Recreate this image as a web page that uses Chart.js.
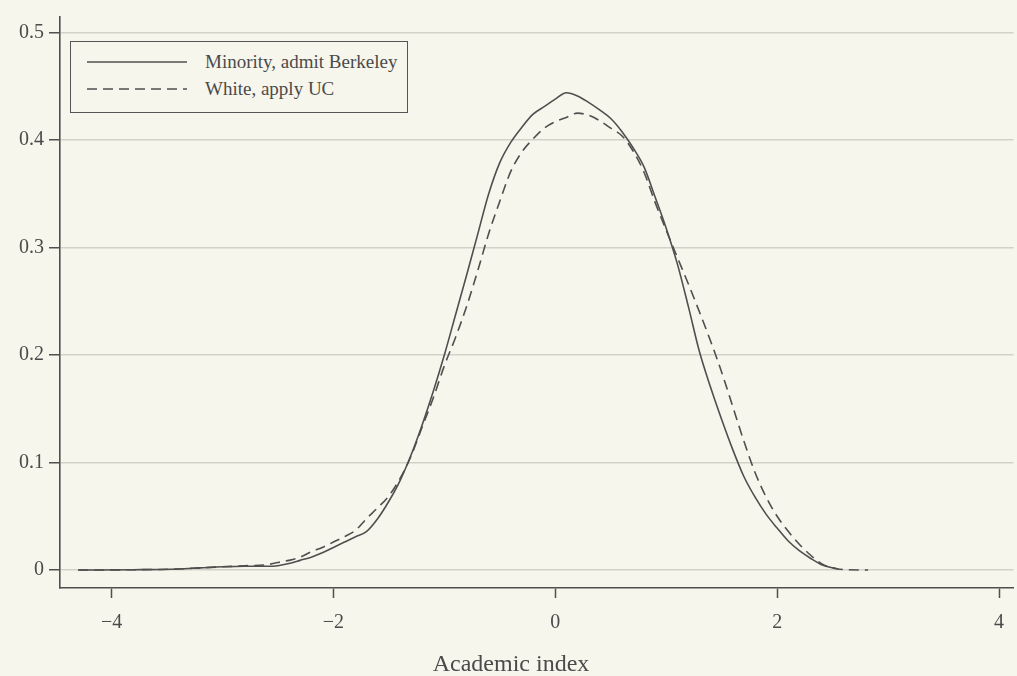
<!DOCTYPE html>
<html>
<head>
<meta charset="utf-8">
<script src="https://cdn.jsdelivr.net/npm/chart.js@4/dist/chart.umd.min.js"></script>
<style>
  html, body { margin:0; padding:0; background:#f7f6ec; }
  #wrap { position:relative; width:1017px; height:676px; overflow:hidden; }
  #legend { position:absolute; left:70px; top:41px; width:338px; height:72px;
            border:1.5px solid #555; background:#f7f6ec; box-sizing:border-box;
            font-family:"Liberation Serif", serif; font-size:19px; color:#4a4a4a; }
  .row { position:absolute; left:16px; height:22px; display:flex; align-items:center; }
  .row svg { margin-right:18px; }
  #xtitle { position:absolute; top:650px; left:0; width:1022px; text-align:center;
            font-family:"Liberation Serif", serif; font-size:24px; color:#4a4a4a; }
</style>
</head>
<body>
<div id="wrap">
  <canvas id="c" width="1017" height="676"></canvas>
  <div id="legend"></div>
  <div id="xtitle">Academic index</div>
</div>
<script>
const xTicks = [-4, -2, 0, 2, 4];
const yTicks = [0, 0.1, 0.2, 0.3, 0.4, 0.5];
const seriesNames = ["Minority, admit Berkeley", "White, apply UC"];

const minorityX = [-4.3,-3.8,-3.4,-3.2,-3.0,-2.8,-2.6,-2.5,-2.4,-2.3,
  -2.2,-2.1,-2.0,-1.9,-1.8,-1.7,-1.6,-1.5,-1.4,-1.3,
  -1.2,-1.1,-1.0,-0.9,-0.8,-0.7,-0.6,-0.5,-0.4,-0.3,
  -0.2,-0.1,0.0,0.1,0.2,0.3,0.4,0.5,0.6,0.7,
  0.8,0.9,1.0,1.1,1.2,1.3,1.4,1.5,1.6,1.7,
  1.8,1.9,2.0,2.1,2.2,2.3,2.4,2.5,2.55];
const minorityY = [0,0.0003,0.001,0.002,0.003,0.0035,0.0035,0.004,0.006,0.009,
  0.012,0.016,0.021,0.026,0.031,0.036,0.048,0.064,0.083,0.107,
  0.135,0.166,0.200,0.237,0.274,0.312,0.350,0.379,0.398,0.412,
  0.424,0.431,0.438,0.444,0.441,0.435,0.428,0.420,0.408,0.393,
  0.375,0.347,0.318,0.285,0.245,0.203,0.170,0.140,0.112,0.087,
  0.068,0.052,0.039,0.027,0.018,0.011,0.005,0.002,0.0012];

const whiteX = [-4.3,-3.8,-3.4,-3.2,-3.0,-2.8,-2.6,-2.5,-2.4,-2.3,
  -2.2,-2.1,-2.0,-1.9,-1.8,-1.7,-1.6,-1.5,-1.4,-1.3,
  -1.2,-1.1,-1.0,-0.9,-0.8,-0.7,-0.6,-0.5,-0.4,-0.3,
  -0.2,-0.1,0.0,0.1,0.2,0.3,0.4,0.5,0.6,0.7,
  0.8,0.9,1.0,1.1,1.2,1.3,1.4,1.5,1.6,1.7,
  1.8,1.9,2.0,2.1,2.2,2.3,2.4,2.5,2.6,2.82];
const whiteY = [0,0.0003,0.001,0.002,0.003,0.004,0.005,0.007,0.009,0.012,
  0.017,0.021,0.026,0.031,0.037,0.048,0.058,0.069,0.085,0.106,
  0.133,0.160,0.190,0.216,0.245,0.278,0.313,0.343,0.371,0.389,
  0.401,0.411,0.417,0.421,0.425,0.423,0.418,0.411,0.404,0.390,
  0.370,0.342,0.316,0.291,0.266,0.240,0.213,0.184,0.152,0.120,
  0.091,0.068,0.050,0.036,0.024,0.014,0.006,0.002,0.0005,0];

const ink = '#4f4f4f';
const textCol = '#4a4a4a';
const serif = '"Liberation Serif", serif';

function pts(xs, ys) { return xs.map((x, i) => ({ x: x, y: ys[i] })); }

const datasets = [
  { label: seriesNames[0], data: pts(minorityX, minorityY), borderColor: ink, borderWidth: 1.6,
    borderDash: [], pointRadius: 0, cubicInterpolationMode: 'monotone', fill: false },
  { label: seriesNames[1], data: pts(whiteX, whiteY), borderColor: ink, borderWidth: 1.6,
    borderDash: [10, 6], pointRadius: 0, cubicInterpolationMode: 'monotone', fill: false }
];

const chart = new Chart(document.getElementById('c'), {
  type: 'line',
  data: { datasets: datasets },
  options: {
    responsive: false, animation: false, devicePixelRatio: 1,
    layout: { padding: { top: 17, right: 0, bottom: 0, left: 0 } },
    plugins: { legend: { display: false }, tooltip: { enabled: false } },
    scales: {
      x: {
        type: 'linear', min: -4.4645, max: 4.132,
        afterBuildTicks: s => { s.ticks = xTicks.map(v => ({ value: v })); },
        afterFit: s => { s.height = 88; },
        grid: { drawOnChartArea: false, tickLength: 10, tickColor: ink, tickWidth: 1.5 },
        border: { display: true, color: ink, width: 1.6 },
        ticks: { color: textCol, padding: 13, font: { family: serif, size: 20 },
                 maxRotation: 0, callback: v => String(v).replace('-', '\u2212') }
      },
      y: {
        type: 'linear', min: -0.0167, max: 0.5144,
        afterBuildTicks: s => { s.ticks = yTicks.map(v => ({ value: v })); },
        afterFit: s => { s.width = 60; },
        grid: { color: '#d3d2c8', lineWidth: 1.5, tickLength: 11, tickColor: ink, tickWidth: 1.5 },
        border: { display: true, color: ink, width: 1.6 },
        ticks: { color: textCol, padding: 5, font: { family: serif, size: 20 },
                 callback: v => String(v) }
      }
    }
  }
});

// HTML legend built from the chart's datasets
const legend = document.getElementById('legend');
chart.data.datasets.forEach((ds, i) => {
  const row = document.createElement('div');
  row.className = 'row';
  row.style.top = (9 + i * 27) + 'px';
  const dash = ds.borderDash && ds.borderDash.length ? ds.borderDash.join(',') : 'none';
  row.innerHTML = '<svg width="100" height="4"><line x1="0" y1="2" x2="100" y2="2" stroke="' +
    ds.borderColor + '" stroke-width="1.6" stroke-dasharray="' + dash + '"/></svg><span>' + ds.label + '</span>';
  legend.appendChild(row);
});
</script>
</body>
</html>
